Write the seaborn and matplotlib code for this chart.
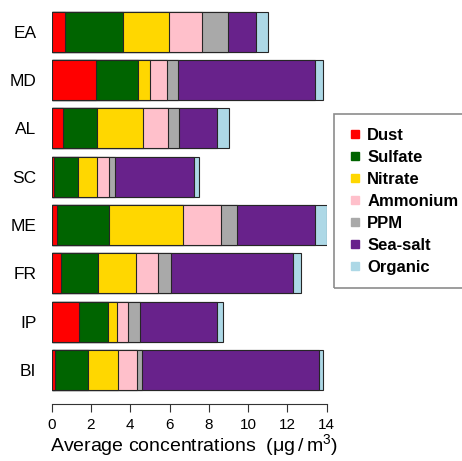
import numpy as np
import pandas as pd
import matplotlib
matplotlib.use("Agg")
import matplotlib.pyplot as plt
from matplotlib.lines import Line2D
from matplotlib.patches import Rectangle
import seaborn as sns

regions = ["EA", "MD", "AL", "SC", "ME", "FR", "IP", "BI"]
components = ["Dust", "Sulfate", "Nitrate", "Ammonium", "PPM", "Sea-salt", "Organic"]
dust     = [0.68, 2.26, 0.56, 0.12, 0.29, 0.46, 1.39, 0.17]
sulfate  = [2.94, 2.15, 1.73, 1.20, 2.63, 1.91, 1.49, 1.66]
nitrate  = [2.37, 0.60, 2.37, 0.97, 3.75, 1.92, 0.46, 1.56]
ammonium = [1.66, 0.85, 1.25, 0.63, 1.95, 1.14, 0.56, 0.97]
ppm      = [1.31, 0.59, 0.59, 0.30, 0.80, 0.63, 0.60, 0.25]
seasalt  = [1.44, 6.96, 1.90, 4.03, 3.99, 6.21, 3.90, 8.98]
organic  = [0.63, 0.42, 0.63, 0.27, 0.59, 0.42, 0.31, 0.24]
xticks = [0, 2, 4, 6, 8, 10, 12, 14]

colors = ["#FF0000", "#006400", "#FFD700", "#FFC0CB", "#A9A9A9", "#68228B", "#ADD8E6"]

sns.set_theme(style="white")
plt.rcParams["font.family"] = ["Liberation Sans", "DejaVu Sans"]
plt.rcParams["mathtext.default"] = "regular"
for key in ["text.color", "axes.labelcolor", "xtick.color", "ytick.color"]:
    plt.rcParams[key] = "black"

series = [dust, sulfate, nitrate, ammonium, ppm, seasalt, organic]
cum = np.cumsum(np.array(series), axis=0)

fig = plt.figure(figsize=(4.62, 4.61), dpi=100)
ax = fig.add_axes([51.7 / 462, 1 - 395 / 461, 275 / 462, 385 / 461])

for k in range(len(components) - 1, -1, -1):
    d = pd.DataFrame({"region": regions, "value": cum[k]})
    sns.barplot(data=d, x="value", y="region", order=regions, orient="h",
                color=colors[k], saturation=1, width=0.83, errorbar=None,
                edgecolor="#262626", linewidth=0.8, ax=ax)

ax.set_xlim(0, 14)
ax.set_ylim(7.517, -0.449)
ax.set_xticks(xticks)
ax.set_xticklabels([str(t) for t in xticks], fontsize=12)
for lab in ax.get_yticklabels():
    lab.set_fontsize(12.5)
ax.tick_params(axis="y", length=0, pad=11)
ax.tick_params(axis="x", direction="out", length=5.8, width=0.8, color="#333333",
               pad=4.5, bottom=True)
for s in ["top", "right", "left"]:
    ax.spines[s].set_visible(False)
ax.spines["bottom"].set_position(("outward", 6.5))
ax.spines["bottom"].set_bounds(0, 14)
ax.spines["bottom"].set_color("#333333")
ax.spines["bottom"].set_linewidth(0.8)
ax.set_ylabel("")
ax.set_xlabel("Average concentrations  (\u03bcg$\\,/\\,$m$^3$)", fontsize=14)
ax.xaxis.label.set_horizontalalignment("left")
ax.xaxis.set_label_coords(-1.7 / 275, -0.097)

handles = [Line2D([], [], marker="s", linestyle="", color=c, markersize=5.2)
           for c in colors]
leg = fig.legend(handles, components, loc="upper left",
                 bbox_to_anchor=(334 / 462, 1 - 114 / 461),
                 prop={"weight": "bold", "size": 12}, frameon=False,
                 borderpad=0.85, labelspacing=0.42,
                 handlelength=0.8, handletextpad=0.35, borderaxespad=0)
fig.patches.append(Rectangle((334 / 462, 1 - 288 / 461), 140 / 462, 174 / 461,
                             transform=fig.transFigure, fill=False,
                             edgecolor="#8c8c8c", linewidth=1.2))

fig.savefig("out.png", dpi=100)
